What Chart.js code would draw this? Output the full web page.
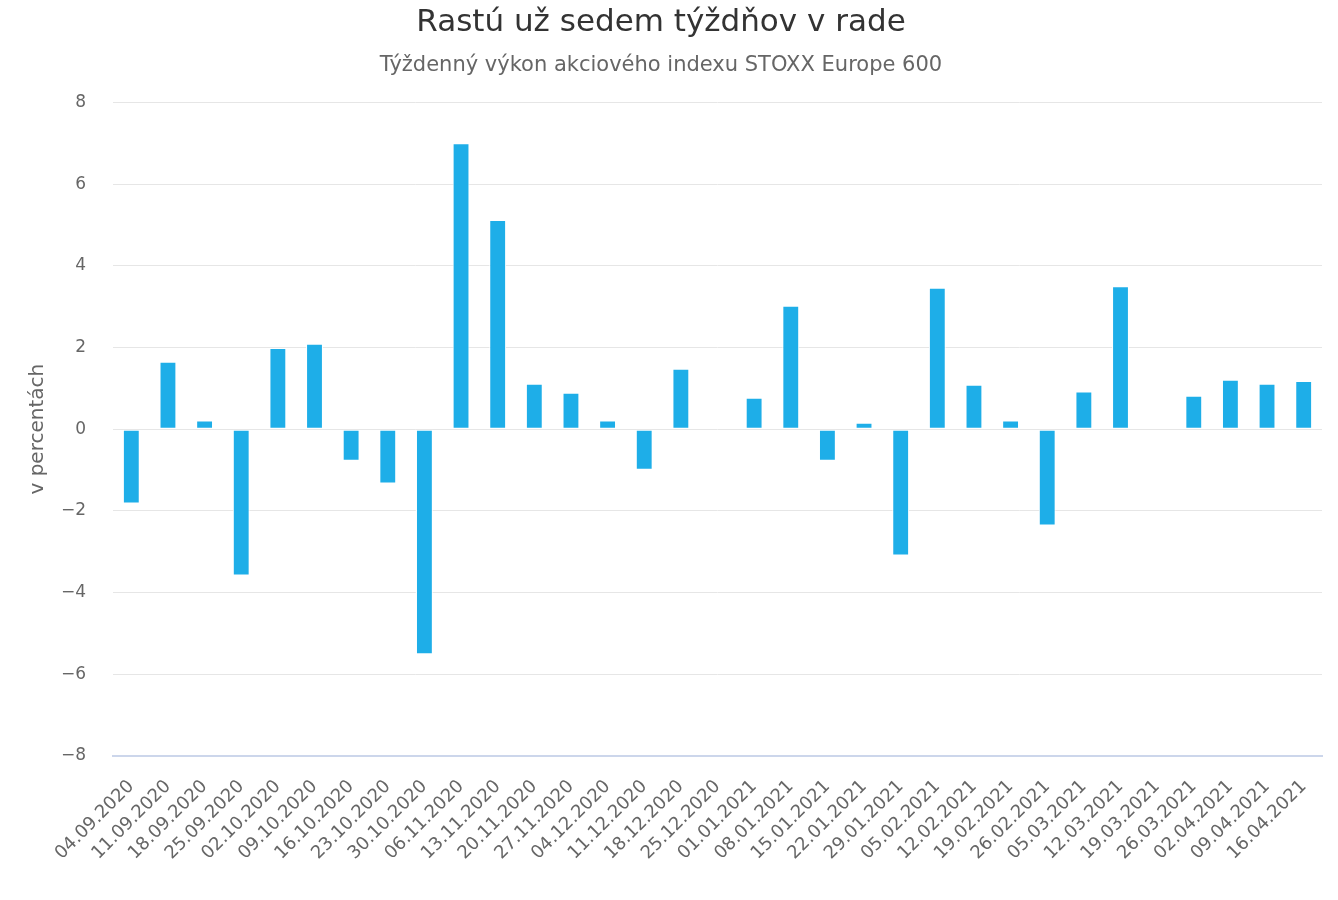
<!DOCTYPE html>
<html>
<head>
<meta charset="utf-8">
<script src="https://cdn.jsdelivr.net/npm/chart.js@4/dist/chart.umd.min.js"></script>
<style>
  html, body { margin: 0; padding: 0; background: #fff; }
  #wrap { width: 1338px; height: 900px; }
</style>
</head>
<body>
<div id="wrap"><canvas id="chart" width="1338" height="900"></canvas></div>
<script>
const WEEKS = [
    "04.09.2020", "11.09.2020", "18.09.2020", "25.09.2020", "02.10.2020", "09.10.2020",
    "16.10.2020", "23.10.2020", "30.10.2020", "06.11.2020", "13.11.2020", "20.11.2020",
    "27.11.2020", "04.12.2020", "11.12.2020", "18.12.2020", "25.12.2020", "01.01.2021",
    "08.01.2021", "15.01.2021", "22.01.2021", "29.01.2021", "05.02.2021", "12.02.2021",
    "19.02.2021", "26.02.2021", "05.03.2021", "12.03.2021", "19.03.2021", "26.03.2021",
    "02.04.2021", "09.04.2021", "16.04.2021"
];
const PERFORMANCE = [
    -1.82, 1.65, 0.21, -3.58, 1.99, 2.09,
    -0.77, -1.33, -5.51, 7.0, 5.12, 1.11,
    0.89, 0.21, -0.99, 1.48, null, 0.77,
    3.02, -0.77, 0.16, -3.09, 3.46, 1.09,
    0.21, -2.36, 0.92, 3.5, 0.0, 0.82,
    1.21, 1.11, 1.18
];
const Y_TICKS = [-8, -6, -4, -2, 0, 2, 4, 6, 8];

const FONT = "'DejaVu Sans', 'Noto Sans', sans-serif";

new Chart(document.getElementById("chart"), {
    type: "bar",
    data: {
        labels: WEEKS,
        datasets: [{
            label: "STOXX Europe 600",
            data: PERFORMANCE,
            backgroundColor: "#1eaee8",
            borderColor: "#ffffff",
            borderWidth: 1,
            borderSkipped: false,
            categoryPercentage: 1,
            barPercentage: 0.46
        }]
    },
    options: {
        responsive: false,
        animation: false,
        layout: { padding: { left: 0, right: 16, top: 0, bottom: 0 } },
        plugins: {
            legend: { display: false },
            tooltip: { enabled: false },
            title: {
                display: true,
                text: "Rastú už sedem týždňov v rade",
                color: "#333333",
                font: { family: FONT, size: 31, weight: "normal" },
                padding: { top: 4, bottom: 8 }
            },
            subtitle: {
                display: true,
                text: "Týždenný výkon akciového indexu STOXX Europe 600",
                color: "#666666",
                font: { family: FONT, size: 21, weight: "normal" },
                padding: { top: 4, bottom: 24 }
            }
        },
        scales: {
            x: {
                grid: { display: false },
                border: { color: "#ccd6eb", width: 2 },
                ticks: {
                    color: "#666666",
                    font: { family: FONT, size: 18 },
                    minRotation: 45,
                    maxRotation: 45,
                    autoSkip: false,
                    padding: 12
                },
                afterFit: axis => { axis.height = 144; }
            },
            y: {
                min: -8,
                max: 8,
                afterBuildTicks: axis => {
                    axis.ticks = Y_TICKS.map(v => ({ value: v }));
                },
                afterFit: axis => { axis.width = 113; },
                grid: { color: "#e6e6e6", lineWidth: 1, drawTicks: false },
                border: { display: false },
                ticks: {
                    color: "#666666",
                    font: { family: FONT, size: 17 },
                    padding: 27,
                    callback: v => (v < 0 ? "\u2212" + Math.abs(v) : String(v))
                },
                title: {
                    display: true,
                    text: "v percentách",
                    color: "#666666",
                    font: { family: FONT, size: 20 },
                    padding: { top: 26, bottom: 0 }
                }
            }
        }
    }
});
</script>
</body>
</html>
